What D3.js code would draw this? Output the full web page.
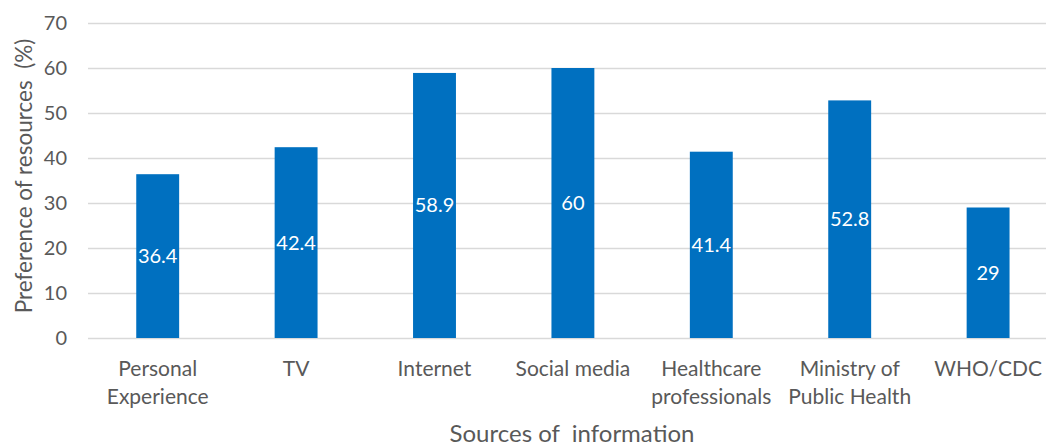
<!DOCTYPE html>
<html><head><meta charset="utf-8">
<script src="https://cdn.jsdelivr.net/npm/d3@7"></script>
<style>body{margin:0;background:#fff}svg{display:block}text{font-family:Lato,"Open Sans",sans-serif}</style>
</head><body><svg id="c" width="1046" height="446"></svg>
<script>
const categories = ["Personal\nExperience","TV","Internet","Social media","Healthcare\nprofessionals","Ministry of\nPublic Health","WHO/CDC"];
const values = [36.4, 42.4, 58.9, 60, 41.4, 52.8, 29];
const yTicks = [0,10,20,30,40,50,60,70];
const yTitle = "Preference of resources  (%)";
const xTitle = "Sources of  information";

const svg = d3.select("#c");
const x = d3.scaleBand().domain(categories).range([88.5, 1057.3]).paddingInner(0.69).paddingOuter(0.345);
const y = d3.scaleLinear().domain([0,70]).range([338, 23]);
const grey = "#595959";

// gridlines
const gy = svg.append("g").attr("transform","translate(88,0)")
  .call(d3.axisLeft(y).tickValues(yTicks).tickSize(-960).tickFormat(""));
gy.select(".domain").remove();
gy.selectAll("line").attr("stroke","#d9d9d9").attr("stroke-width",1.3);

// tick labels
const ty = svg.append("g").attr("transform","translate(67,0)")
  .call(d3.axisLeft(y).tickValues(yTicks).tickSize(0).tickPadding(0));
ty.select(".domain").remove();
ty.selectAll("text").attr("fill",grey).style("font-size","20px").style("font-family","Lato");

// bars
svg.append("g").selectAll("rect").data(values).join("rect")
  .attr("x",(d,i)=>x(categories[i])).attr("width",x.bandwidth())
  .attr("y",d=>y(d)).attr("height",d=>y(0)-y(d)).attr("fill","#0070C0");

// data labels
svg.append("g").selectAll("text").data(values).join("text")
  .attr("x",(d,i)=>x(categories[i])+x.bandwidth()/2).attr("y",d=>y(d/2))
  .attr("text-anchor","middle").attr("dy","0.35em").attr("fill","#fff")
  .style("font-size","20px").text(d=>d);

// category labels
const cl = svg.append("g").selectAll("text").data(categories).join("text")
  .attr("x",d=>x(d)+x.bandwidth()/2).attr("y",376)
  .attr("text-anchor","middle").attr("fill",grey).style("font-size","21px");
cl.each(function(d){
  const lines=d.split("\n");
  d3.select(this).selectAll("tspan").data(lines).join("tspan")
    .attr("x",d3.select(this).attr("x")).attr("dy",(l,i)=>i?28:0).text(l=>l);
});

// axis titles
svg.append("text").attr("x",572).attr("y",442).attr("text-anchor","middle")
  .attr("fill",grey).style("font-size","24px").style("white-space","pre").attr("xml:space","preserve").text(xTitle);
svg.append("text").attr("transform","translate(32,176) rotate(-90)").attr("text-anchor","middle")
  .attr("fill",grey).style("font-size","22.5px").style("white-space","pre").attr("xml:space","preserve").text(yTitle);
</script></body></html>
